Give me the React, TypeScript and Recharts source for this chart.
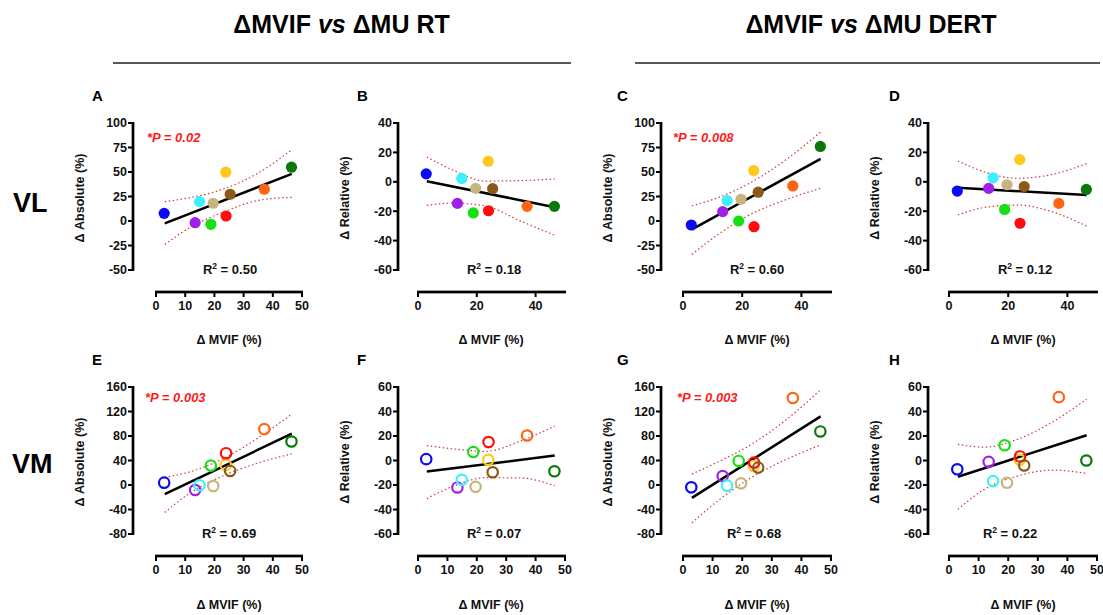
import React from "react";
import { ComposedChart, Scatter, Line, XAxis, YAxis } from "recharts";

const FONT = '"Liberation Sans", Arial, Helvetica, sans-serif';

// subjects, always in this order: blue, purple, cyan, green, tan, yellow, red, brown, orange, dark green
const subjectColors = [
  "#0a0af5", "#a020e8", "#3ef0ff", "#14e014", "#c8b47e",
  "#ffc81e", "#ff0d0d", "#8c5a16", "#ff6412", "#0b780b",
];
const deltaMvif = [2.8, 13.4, 14.9, 18.8, 19.6, 23.9, 24.0, 25.4, 37.1, 46.4];

// Δ MU per panel (%)
const vlRtAbs = [7.8, -1.7, 19.8, -3.4, 18.1, 49.8, 5.1, 27.3, 32.4, 54.9];
const vlRtRel = [5.4, -14.7, 2.3, -21.2, -4.5, 14.0, -19.7, -4.7, -16.7, -16.7];
const vlDertAbs = [-4.1, 9.6, 20.8, 0, 22.2, 51.5, -5.8, 29.4, 35.8, 76.1];
const vlDertRel = [-6.3, -4.5, 2.7, -18.8, -2.0, 15.1, -28.2, -3.2, -14.7, -5.2];
const vmRtAbs = [3.8, -8.2, -0.5, 31.7, -1.6, 32.8, 51.9, 22.9, 91.2, 71.0];
const vmRtRel = [1.1, -22.0, -15.7, 6.9, -21.5, 0.6, 15.1, -9.6, 20.4, -8.8];
const vmDertAbs = [-3.8, 14.7, -1.1, 39.3, 2.7, 31.1, 36.6, 28.4, 142, 87.4];
const vmDertRel = [-7.2, -1.1, -16.8, 12.4, -18.2, 0.6, 3.3, -4.1, 51.7, 0];

// regression line ends and 95% band
const fitX = [3, 46.5];
const bandX = [3, 12, 23, 35, 46.5];

const fitA = [-2.4, 48.1];
const upperA = [19.8, 24.0, 32.5, 49.0, 72.7];
const lowerA = [-23.9, -6.0, 9.0, 21.0, 24.2];
const fitB = [0.4, -17.3];
const upperB = [16.9, 7.9, 0.5, 0.8, 2.0];
const lowerB = [-16.0, -14.5, -16.5, -26.8, -36.4];
const fitC = [-8.5, 63.3];
const upperC = [15.4, 24.0, 39.5, 63.0, 90.8];
const lowerC = [-34.1, -13.5, 7.0, 22.0, 33.4];
const fitD = [-4.1, -9.0];
const upperD = [14.2, 6.7, 2.4, 5.0, 12.4];
const lowerD = [-22.6, -17.4, -15.8, -20.5, -30.1];
const fitE = [-15.0, 83.7];
const upperE = [12.6, 22.0, 43.0, 77.0, 115.8];
const lowerE = [-44.8, -12.0, 15.0, 36.0, 50.8];
const fitF = [-9.0, 4.0];
const upperF = [12.1, 9.5, 7.5, 16.0, 28.1];
const lowerF = [-31.1, -21.0, -14.0, -14.3, -20.6];
const fitG = [-21.0, 112.0];
const upperG = [18.0, 38.0, 66.0, 107.0, 155.7];
const lowerG = [-61.7, -25.0, 12.0, 42.0, 65.5];
const fitH = [-13.3, 20.6];
const upperH = [13.2, 10.9, 17.2, 31.5, 50.1];
const lowerH = [-39.9, -23.5, -12.8, -7.9, -10.5];

const absTicksVL = [-50, -25, 0, 25, 50, 75, 100];
const relTicksVL = [-60, -40, -20, 0, 20, 40];
const absTicksVM = [-80, -40, 0, 40, 80, 120, 160];
const relTicksVM = [-60, -40, -20, 0, 20, 40, 60];
const xTicks10 = [0, 10, 20, 30, 40, 50];
const xTicks20 = [0, 20, 40];

// layout (page px)
const colLeft = [133, 398, 661, 928];
const colZero = [156, 418, 683, 949];
const colRight = [302, 565, 831, 1097];
const rowTop = [123, 387];
const rowTickBottom = [270, 534];
const rowAxis = [292, 556];
const YW = 45;
const MT = 12;
const MR = 8;
const XH = 30;
const AXIS_W = 2.4;

interface PanelCfg {
  letter: string;
  col: number;
  row: number;
  values: number[];
  fit: number[];
  upper: number[];
  lower: number[];
  yTicks: number[];
  xTicks: number[];
  yLabel: string;
  r2: string;
  r2X: number;
  p?: string;
  pX?: number;
  hollow: boolean;
}

const panels: PanelCfg[] = [
  { letter: "A", col: 0, row: 0, values: vlRtAbs, fit: fitA, upper: upperA, lower: lowerA, yTicks: absTicksVL, xTicks: xTicks10, yLabel: "Δ Absolute (%)", r2: "0.50", r2X: 230, p: "*P = 0.02", pX: 147, hollow: false },
  { letter: "B", col: 1, row: 0, values: vlRtRel, fit: fitB, upper: upperB, lower: lowerB, yTicks: relTicksVL, xTicks: xTicks20, yLabel: "Δ Relative (%)", r2: "0.18", r2X: 494, hollow: false },
  { letter: "C", col: 2, row: 0, values: vlDertAbs, fit: fitC, upper: upperC, lower: lowerC, yTicks: absTicksVL, xTicks: xTicks20, yLabel: "Δ Absolute (%)", r2: "0.60", r2X: 757, p: "*P = 0.008", pX: 673, hollow: false },
  { letter: "D", col: 3, row: 0, values: vlDertRel, fit: fitD, upper: upperD, lower: lowerD, yTicks: relTicksVL, xTicks: xTicks20, yLabel: "Δ Relative (%)", r2: "0.12", r2X: 1025, hollow: false },
  { letter: "E", col: 0, row: 1, values: vmRtAbs, fit: fitE, upper: upperE, lower: lowerE, yTicks: absTicksVM, xTicks: xTicks10, yLabel: "Δ Absolute (%)", r2: "0.69", r2X: 229, p: "*P = 0.003", pX: 145, hollow: true },
  { letter: "F", col: 1, row: 1, values: vmRtRel, fit: fitF, upper: upperF, lower: lowerF, yTicks: relTicksVM, xTicks: xTicks10, yLabel: "Δ Relative (%)", r2: "0.07", r2X: 494, hollow: true },
  { letter: "G", col: 2, row: 1, values: vmDertAbs, fit: fitG, upper: upperG, lower: lowerG, yTicks: absTicksVM, xTicks: xTicks10, yLabel: "Δ Absolute (%)", r2: "0.68", r2X: 754, p: "*P = 0.003", pX: 677, hollow: true },
  { letter: "H", col: 3, row: 1, values: vmDertRel, fit: fitH, upper: upperH, lower: lowerH, yTicks: relTicksVM, xTicks: xTicks10, yLabel: "Δ Relative (%)", r2: "0.22", r2X: 1010, hollow: true },
];

const tickStyle = { fontSize: 12.5, fontWeight: 700, fill: "#111", fontFamily: FONT };
const CI_COLOR = "#cc3b3b";

// axis lines drawn inside the chart's own svg, on its plot box
function AxisFrame({ w, h, zeroX, tickBottomY }: { w: number; h: number; zeroX: number; tickBottomY: number }) {
  return (
    <g>
      <rect x={YW - AXIS_W / 2} y={MT - 1} width={AXIS_W} height={tickBottomY - MT + 2} fill="#000" />
      <rect x={zeroX - 1} y={h - XH - AXIS_W / 2} width={w - MR - zeroX + 2} height={AXIS_W} fill="#000" />
    </g>
  );
}

function Panel({ cfg }: { cfg: PanelCfg }) {
  const left = colLeft[cfg.col];
  const zero = colZero[cfg.col];
  const right = colRight[cfg.col];
  const top = rowTop[cfg.row];
  const tickBottom = rowTickBottom[cfg.row];
  const axisY = rowAxis[cfg.row];
  const yTop = cfg.yTicks[cfg.yTicks.length - 1];
  const yBot = cfg.yTicks[0];
  // detached axes: pad the domains so the 0 tick and the bottom tick sit inside the plot box
  const xMin = (-(zero - left) * 50) / (right - zero);
  const yMin = yBot - ((axisY - tickBottom) * (yTop - yBot)) / (tickBottom - top);

  const points = deltaMvif.map((x, i) => ({ x, y: cfg.values[i], color: subjectColors[i] }));
  const fitData = fitX.map((x, i) => ({ x, y: cfg.fit[i] }));
  const upperData = bandX.map((x, i) => ({ x, y: cfg.upper[i] }));
  const lowerData = bandX.map((x, i) => ({ x, y: cfg.lower[i] }));

  const width = YW + (right - left) + MR;
  const height = MT + (axisY - top) + XH;

  const dot = (props: any) => {
    const { cx, cy, payload } = props;
    if (cfg.hollow) {
      return <circle cx={cx} cy={cy} r={5.2} fill="none" stroke={payload.color} strokeWidth={2.2} />;
    }
    return <circle cx={cx} cy={cy} r={5.6} fill={payload.color} />;
  };

  return (
    <div style={{ position: "absolute", left: left - YW, top: top - MT, width, height }}>
      <ComposedChart width={width} height={height} margin={{ top: MT, right: MR, bottom: 0, left: 0 }}>
        <XAxis
          type="number"
          dataKey="x"
          domain={[xMin, 50]}
          ticks={cfg.xTicks}
          interval={0}
          axisLine={false}
          tickLine={{ stroke: "#000", strokeWidth: 2 }}
          tickSize={5}
          tickMargin={4}
          tick={tickStyle}
          height={XH}
        />
        <YAxis
          type="number"
          domain={[yMin, yTop]}
          ticks={cfg.yTicks}
          interval={0}
          axisLine={false}
          tickLine={{ stroke: "#000", strokeWidth: 2 }}
          tickSize={5}
          tickMargin={1}
          tick={tickStyle}
          width={YW}
        />
        <AxisFrame w={width} h={height} zeroX={zero - left + YW} tickBottomY={tickBottom - top + MT} />
        <Line data={upperData} dataKey="y" type="monotone" stroke={CI_COLOR} strokeWidth={1.2} strokeDasharray="1.5 2.5" dot={false} isAnimationActive={false} />
        <Line data={lowerData} dataKey="y" type="monotone" stroke={CI_COLOR} strokeWidth={1.2} strokeDasharray="1.5 2.5" dot={false} isAnimationActive={false} />
        <Line data={fitData} dataKey="y" type="linear" stroke="#000" strokeWidth={2.5} dot={false} isAnimationActive={false} />
        <Scatter data={points} dataKey="y" shape={dot} isAnimationActive={false} />
      </ComposedChart>
    </div>
  );
}

const yLabelX = [80, 345, 608, 875];
const yLabelY = [198, 462];
const xLabelX = [229, 491, 757, 1023];
const xLabelY = [344, 609];
const letterX = [92, 357, 617, 889];
const letterY = [101, 365];
const r2Y = [274, 538];
const pY = [141.5, 402];

function Overlay() {
  return (
    <svg
      width={1103}
      height={615}
      style={{ position: "absolute", left: 0, top: 0, pointerEvents: "none", zIndex: 5 }}
      fontFamily={FONT}
    >
      <text x={341.5} y={33} textAnchor="middle" fontSize={25} fontWeight={700} fill="#000">
        <tspan>ΔMVIF </tspan>
        <tspan fontStyle="italic">vs</tspan>
        <tspan> ΔMU RT</tspan>
      </text>
      <text x={871} y={33} textAnchor="middle" fontSize={25} fontWeight={700} fill="#000">
        <tspan>ΔMVIF </tspan>
        <tspan fontStyle="italic">vs</tspan>
        <tspan> ΔMU DERT</tspan>
      </text>
      <rect x={113} y={62.25} width={458} height={1.5} fill="#222" />
      <rect x={635} y={62.25} width={465} height={1.5} fill="#222" />

      <text x={13} y={212} fontSize={27} fontWeight={700} fill="#000">VL</text>
      <text x={12} y={473} fontSize={27} fontWeight={700} fill="#000">VM</text>

      {panels.map((p) => (
        <g key={p.letter}>
          {/* same axis lines on the page grid, so they show even if the chart's own copy is skipped */}
          <rect
            x={colLeft[p.col] - AXIS_W / 2}
            y={rowTop[p.row] - 1}
            width={AXIS_W}
            height={rowTickBottom[p.row] - rowTop[p.row] + 2}
            fill="#000"
          />
          <rect
            x={colZero[p.col] - 1}
            y={rowAxis[p.row] - AXIS_W / 2}
            width={colRight[p.col] - colZero[p.col] + 2}
            height={AXIS_W}
            fill="#000"
          />
          <text x={letterX[p.col]} y={letterY[p.row]} fontSize={15} fontWeight={700} fill="#000">
            {p.letter}
          </text>
          <text
            x={yLabelX[p.col]}
            y={yLabelY[p.row]}
            transform={`rotate(-90 ${yLabelX[p.col]} ${yLabelY[p.row]})`}
            textAnchor="middle"
            dominantBaseline="central"
            fontSize={12.5}
            fontWeight={700}
            fill="#111"
          >
            {p.yLabel}
          </text>
          <text x={xLabelX[p.col]} y={xLabelY[p.row]} textAnchor="middle" fontSize={12.5} fontWeight={700} fill="#111">
            Δ MVIF (%)
          </text>
          <text x={p.r2X} y={r2Y[p.row]} textAnchor="middle" fontSize={13} fontWeight={700} fill="#111">
            <tspan>R</tspan>
            <tspan dy={-5} fontSize={8.5}>2</tspan>
            <tspan dy={5}>{` = ${p.r2}`}</tspan>
          </text>
          {p.p && (
            <text x={p.pX} y={pY[p.row]} fontSize={13} fontWeight={700} fontStyle="italic" fill="#ff1a1a">
              {p.p}
            </text>
          )}
        </g>
      ))}
    </svg>
  );
}

export default function App() {
  return (
    <div style={{ position: "absolute", left: 0, top: 0, width: 1103, height: 615, background: "#fff" }}>
      {panels.map((p) => (
        <Panel key={p.letter} cfg={p} />
      ))}
      <Overlay />
    </div>
  );
}
